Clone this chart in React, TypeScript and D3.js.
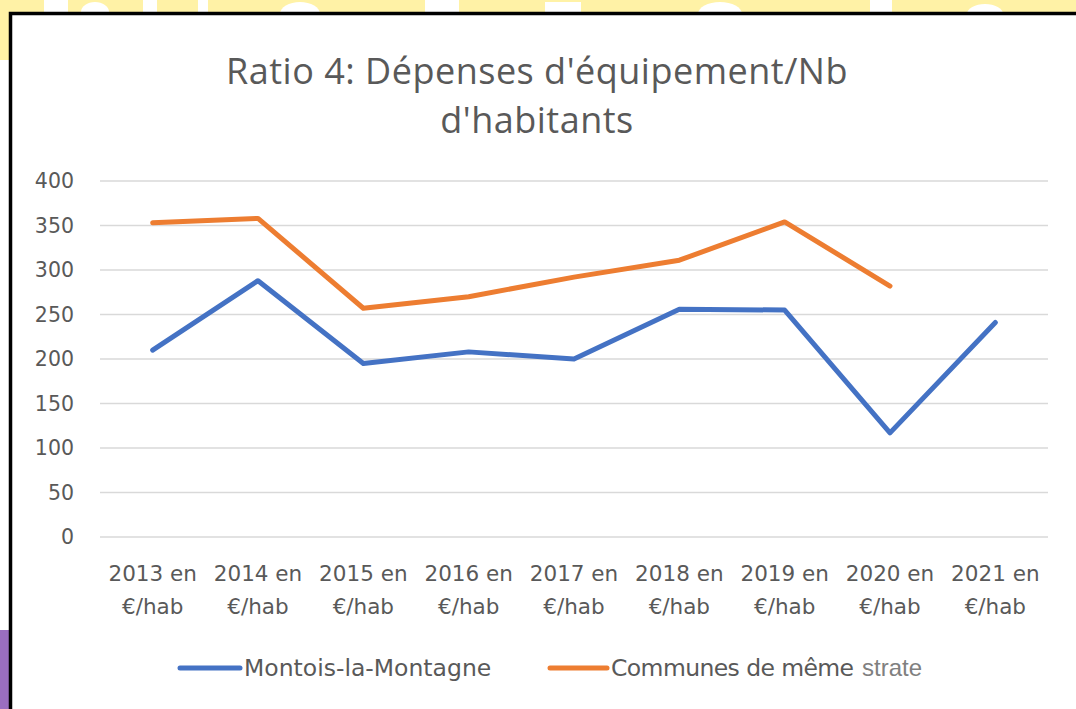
import React from 'react';
import * as d3 from 'd3';

const W = 1076, H = 709;
const margin = { top: 181, right: 28, bottom: 172, left: 100 };

const categories = ['2013', '2014', '2015', '2016', '2017', '2018', '2019', '2020', '2021'];
const montois = [210, 288, 195, 208, 200, 256, 255, 117, 241];
const communes = [353, 358, 257, 270, 292, 311, 354, 282, null];
const yTicks = [0, 50, 100, 150, 200, 250, 300, 350, 400];

const series = [
  { name: 'Montois-la-Montagne', color: '#4472C4', values: montois },
  { name: 'Communes de même', color: '#ED7D31', values: communes },
];

const titleFont = '"Open Sans", "Noto Sans", sans-serif';
const font = '"DejaVu Sans", Verdana, sans-serif';

const App = () => {
  const xScale = d3.scaleBand<string>()
    .domain(categories)
    .range([margin.left, W - margin.right]);
  const yScale = d3.scaleLinear()
    .domain([0, 400])
    .range([H - margin.bottom, margin.top]);
  const cx = (c: string) => (xScale(c) as number) + xScale.bandwidth() / 2;

  const line = d3.line<number | null>()
    .defined(d => d != null)
    .x((_, i) => cx(categories[i]))
    .y(d => yScale(d as number));

  return <svg width={W} height={H} style={{ position: 'absolute', left: 0, top: 0 }}>
    {/* fond */}
    <rect x={0} y={0} width={W} height={H} fill='#fff' />
    <rect x={0} y={0} width={W} height={12} fill='#FFF2A6' />
    <rect x={0} y={0} width={9} height={60} fill='#FFF2A6' />
    <rect x={0} y={630} width={9} height={79} fill='#9B6EC0' />
    {/* lettres blanches en arrière-plan */}
    <g fill='#fff'>
      <rect x={44} y={0} width={24} height={12} />
      <ellipse cx={95} cy={12} rx={14} ry={10} />
      <rect x={143} y={0} width={14} height={12} />
      <rect x={198} y={0} width={10} height={12} />
      <ellipse cx={300} cy={14} rx={20} ry={12} />
      <rect x={425} y={0} width={34} height={12} />
      <rect x={545} y={2} width={36} height={10} />
      <ellipse cx={720} cy={14} rx={22} ry={12} />
      <rect x={870} y={0} width={22} height={12} />
      <ellipse cx={985} cy={14} rx={18} ry={10} />
    </g>
    <path d={`M10.5,${H} V13.5 H${W}`} fill='none' stroke='#000' strokeWidth={3.5} />

    {/* titre */}
    <g fill='#595959' fontFamily={titleFont} fontSize={36} textAnchor='middle'>
      <text x={537} y={84} letterSpacing={0.5}>Ratio 4: Dépenses d'équipement/Nb</text>
      <text x={537} y={133} letterSpacing={0.5}>d'habitants</text>
    </g>

    {/* grille + axe y */}
    <g>
      {yTicks.map(t => <g key={t}>
        <line x1={margin.left} x2={W - margin.right} y1={yScale(t)} y2={yScale(t)}
          stroke='#D9D9D9' strokeWidth={1.5} />
        <text x={74} y={yScale(t)} dy='0.35em' textAnchor='end' fill='#595959'
          fontFamily={font} fontSize={20.5}>{t}</text>
      </g>)}
    </g>

    {/* axe x */}
    <g fill='#595959' fontFamily={font} fontSize={21.5} textAnchor='middle'>
      {categories.map(c => <g key={c}>
        <text x={cx(c)} y={581}>{c} en</text>
        <text x={cx(c)} y={614}>€/hab</text>
      </g>)}
    </g>

    {/* lignes */}
    {series.map(s => <path key={s.name} d={line(s.values) as string} fill='none'
      stroke={s.color} strokeWidth={5} strokeLinecap='round' strokeLinejoin='round' />)}

    {/* légende */}
    <g fontFamily={font} fontSize={23.5} fill='#595959'>
      <line x1={180} x2={240} y1={668} y2={668} stroke={series[0].color} strokeWidth={5} strokeLinecap='round' />
      <text x={244} y={676}>{series[0].name}</text>
      <line x1={550} x2={607} y1={668} y2={668} stroke={series[1].color} strokeWidth={5} strokeLinecap='round' />
      <text x={611} y={676} letterSpacing={-0.6}>{series[1].name}</text>
      <text x={862} y={676} fill='#808080' fontFamily='"Liberation Sans", Arial, sans-serif' fontSize={24}>strate</text>
    </g>
  </svg>;
};

export default App;
